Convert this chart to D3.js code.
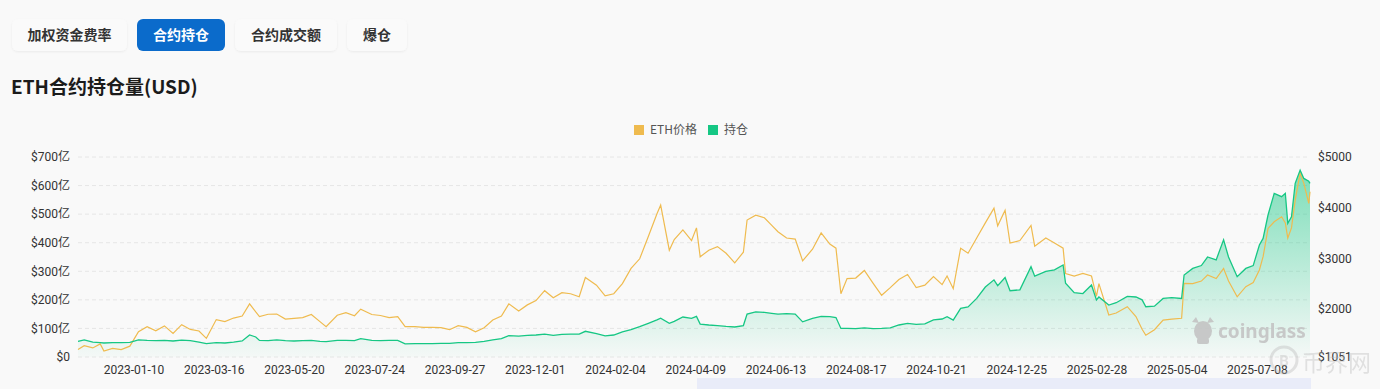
<!DOCTYPE html>
<html>
<head>
<meta charset="utf-8">
<script src="https://cdn.jsdelivr.net/npm/d3@7"></script>
<style>
  html, body { margin: 0; padding: 0; background: #f9f9f9; }
  svg { display: block; font-family: Roboto, "Noto Sans CJK SC", sans-serif; }
  .cn { font-family: "Noto Sans CJK SC", "Noto Sans", sans-serif; }
</style>
</head>
<body>
<svg id="chart" width="1380" height="389"></svg>
<script>
// tabs above the chart
const tabs = ["加权资金费率", "合约持仓", "合约成交额", "爆仓"];
const activeTab = "合约持仓";

// sample dates (irregular, extra points on spikes)
const dates = [
  "2022-11-26","2022-12-01","2022-12-08","2022-12-14","2022-12-17","2022-12-24","2022-12-31","2023-01-07","2023-01-14","2023-01-21",
  "2023-01-28","2023-02-04","2023-02-11","2023-02-18","2023-02-25","2023-03-04","2023-03-10","2023-03-18","2023-03-25","2023-04-01",
  "2023-04-08","2023-04-14","2023-04-19","2023-04-22","2023-04-29","2023-05-06","2023-05-13","2023-05-20","2023-05-27","2023-06-03",
  "2023-06-10","2023-06-15","2023-06-24","2023-07-01","2023-07-08","2023-07-13","2023-07-22","2023-07-29","2023-08-05","2023-08-12",
  "2023-08-18","2023-08-26","2023-09-02","2023-09-09","2023-09-16","2023-09-23","2023-09-30","2023-10-07","2023-10-14","2023-10-21",
  "2023-10-28","2023-11-04","2023-11-10","2023-11-18","2023-11-25","2023-12-02","2023-12-09","2023-12-16","2023-12-23","2023-12-30",
  "2024-01-06","2024-01-11","2024-01-20","2024-01-27","2024-02-03","2024-02-10","2024-02-17","2024-02-24","2024-03-02","2024-03-09",
  "2024-03-12","2024-03-19","2024-03-23","2024-03-30","2024-04-06","2024-04-10","2024-04-13","2024-04-20","2024-04-27","2024-05-04",
  "2024-05-11","2024-05-18","2024-05-21","2024-05-28","2024-06-04","2024-06-10","2024-06-15","2024-06-22","2024-06-29","2024-07-05",
  "2024-07-13","2024-07-20","2024-07-27","2024-08-01","2024-08-05","2024-08-10","2024-08-17","2024-08-24","2024-08-31","2024-09-07",
  "2024-09-14","2024-09-21","2024-09-28","2024-10-05","2024-10-12","2024-10-19","2024-10-26","2024-10-30","2024-11-04","2024-11-10",
  "2024-11-16","2024-11-23","2024-11-30","2024-12-07","2024-12-10","2024-12-16","2024-12-20","2024-12-28","2025-01-06","2025-01-09",
  "2025-01-18","2025-01-25","2025-02-01","2025-02-03","2025-02-10","2025-02-17","2025-02-24","2025-02-28","2025-03-02","2025-03-10",
  "2025-03-16","2025-03-25","2025-04-01","2025-04-06","2025-04-09","2025-04-16","2025-04-23","2025-04-30","2025-05-08","2025-05-10",
  "2025-05-17","2025-05-24","2025-05-29","2025-06-05","2025-06-11","2025-06-15","2025-06-22","2025-06-29","2025-07-05","2025-07-10",
  "2025-07-13","2025-07-17","2025-07-22","2025-07-28","2025-07-31","2025-08-02","2025-08-05","2025-08-08","2025-08-12","2025-08-15","2025-08-19","2025-08-20"
];

// ETH price, USD
const ethPrice = [
  1200,1275,1230,1310,1170,1220,1197,1265,1550,1650,
  1570,1665,1515,1690,1595,1565,1420,1790,1750,1820,
  1860,2100,1940,1850,1895,1900,1800,1815,1830,1890,
  1750,1650,1875,1925,1865,1995,1890,1870,1830,1850,
  1650,1650,1635,1635,1630,1590,1670,1635,1550,1630,
  1780,1860,2100,1960,2080,2165,2360,2220,2320,2300,
  2240,2620,2470,2260,2300,2500,2800,2990,3430,3880,
  4050,3160,3370,3560,3350,3600,3030,3160,3230,3100,
  2910,3120,3756,3850,3800,3650,3525,3400,3380,2950,
  3180,3500,3280,3200,2300,2600,2610,2760,2510,2270,
  2420,2580,2680,2420,2470,2640,2480,2650,2400,3200,
  3100,3400,3700,3990,3640,3950,3300,3350,3650,3240,
  3400,3300,3200,2700,2650,2700,2650,2250,2500,1880,
  1920,2045,1850,1600,1480,1590,1780,1800,1815,2506,
  2500,2550,2670,2600,2800,2550,2240,2440,2520,2769,
  3031,3590,3720,3820,3700,3400,3600,4150,4680,4480,4085,4315
];

// open interest, 亿 USD
const openInterest = [
  55,60,52,50,49,50,50,51,60,58,
  57,58,56,59,57,52,47,50,49,52,
  56,77,70,58,57,60,57,56,57,58,
  55,54,58,58,57,64,58,57,58,58,
  46,47,47,47,48,48,50,50,51,55,
  60,64,75,73,76,77,80,76,79,80,
  80,90,82,74,77,88,96,106,118,130,
  136,118,125,140,135,142,115,112,110,107,
  105,110,150,158,156,153,150,152,150,123,
  135,142,141,138,100,100,99,102,99,100,
  102,112,118,114,116,130,133,141,129,170,
  175,205,245,270,250,278,232,235,316,283,
  300,305,322,258,225,222,252,200,210,182,
  190,212,210,200,176,178,205,208,205,287,
  310,320,350,340,410,350,281,310,320,392,
  415,497,573,561,573,468,491,608,654,625,615,608
];

const xTickLabels = ["2023-01-10","2023-03-16","2023-05-20","2023-07-24","2023-09-27","2023-12-01",
  "2024-02-04","2024-04-09","2024-06-13","2024-08-17","2024-10-21","2024-12-25","2025-02-28","2025-05-04","2025-07-08"];
const oiTicks = [0, 100, 200, 300, 400, 500, 600, 700];
const priceTicks = [1051, 2000, 3000, 4000, 5000];

const priceColor = "#efbb4f";
const oiColor = "#16c784";

const svg = d3.select("#chart");
const parse = d3.timeParse("%Y-%m-%d");
const data = dates.map((d, i) => ({ date: parse(d), price: ethPrice[i], oi: openInterest[i] }));

const plot = { left: 78, right: 1310, top: 157, bottom: 357 };

const x = d3.scaleTime()
  .domain(d3.extent(data, d => d.date))
  .range([plot.left, plot.right]);
const yOi = d3.scaleLinear().domain([0, 700]).range([plot.bottom, plot.top]);
const yPrice = d3.scaleLinear().domain([1051, 5000]).range([plot.bottom, plot.top]);

// --- tabs
const tabX = [12, 137, 235, 347];
const tabW = [115, 88, 102, 60];
const defs = svg.append("defs");
const shadow = defs.append("filter").attr("id", "tabShadow").attr("x", "-10%").attr("y", "-20%").attr("width", "120%").attr("height", "150%");
shadow.append("feDropShadow").attr("dx", 0).attr("dy", 1).attr("stdDeviation", 1).attr("flood-color", "#000").attr("flood-opacity", 0.06);

const tabG = svg.append("g").selectAll("g")
  .data(tabs)
  .enter()
  .append("g")
  .attr("transform", (d, i) => `translate(${tabX[i]},19)`);
tabG.append("rect")
  .attr("width", (d, i) => tabW[i])
  .attr("height", 32)
  .attr("rx", 6)
  .attr("fill", d => d === activeTab ? "#0b6bcb" : "#fafafa")
  .attr("filter", d => d === activeTab ? null : "url(#tabShadow)");
tabG.append("text")
  .attr("class", "cn")
  .attr("x", (d, i) => tabW[i] / 2)
  .attr("y", 16)
  .attr("dy", "0.35em")
  .attr("text-anchor", "middle")
  .attr("font-size", 14)
  .attr("font-weight", "bold")
  .attr("fill", d => d === activeTab ? "#fff" : "#333")
  .text(d => d);

// --- title
svg.append("text")
  .attr("class", "cn")
  .attr("x", 11)
  .attr("y", 94)
  .attr("font-size", 19)
  .attr("font-weight", "bold")
  .attr("fill", "#1b1b1b")
  .text("ETH合约持仓量(USD)");

// --- legend
const legend = svg.append("g").attr("class", "cn");
[["ETH价格", priceColor, 634], ["持仓", oiColor, 708]].forEach(([name, c, lx]) => {
  legend.append("rect").attr("x", lx).attr("y", 125).attr("width", 10).attr("height", 10).attr("fill", c);
  legend.append("text").attr("x", lx + 16).attr("y", 130).attr("dy", "0.35em")
    .attr("font-size", 12).attr("fill", "#555").text(name);
});

// --- grid
svg.append("g")
  .selectAll("line")
  .data(oiTicks)
  .enter()
  .append("line")
  .attr("x1", plot.left)
  .attr("x2", plot.right)
  .attr("y1", d => yOi(d))
  .attr("y2", d => yOi(d))
  .attr("stroke", "#e6e6e6")
  .attr("stroke-dasharray", "4 3");

// --- axes
const leftAxis = svg.append("g")
  .attr("transform", `translate(${plot.left},0)`)
  .call(d3.axisLeft(yOi).tickValues(oiTicks).tickSize(0).tickPadding(8).tickFormat(d => `$${d === 0 ? 0 : d + "亿"}`));
const rightAxis = svg.append("g")
  .attr("transform", `translate(${plot.right},0)`)
  .call(d3.axisRight(yPrice).tickValues(priceTicks).tickSize(0).tickPadding(8).tickFormat(d => `$${d}`));
const bottomAxis = svg.append("g")
  .attr("transform", `translate(0,${plot.bottom})`)
  .call(d3.axisBottom(x).tickValues(xTickLabels.map(parse)).tickSize(0).tickPadding(8).tickFormat(d3.timeFormat("%Y-%m-%d")));
[leftAxis, rightAxis, bottomAxis].forEach(a => {
  a.select(".domain").remove();
  a.selectAll("text").attr("font-size", 12).attr("fill", "#333").attr("font-family", 'Roboto, "Noto Sans CJK SC", sans-serif');
});

// --- open interest area
const grad = defs.append("linearGradient").attr("id", "oiFill").attr("x1", 0).attr("y1", 0).attr("x2", 0).attr("y2", 1);
grad.append("stop").attr("offset", "0%").attr("stop-color", oiColor).attr("stop-opacity", 0.55);
grad.append("stop").attr("offset", "100%").attr("stop-color", oiColor).attr("stop-opacity", 0.02);

svg.append("path")
  .datum(data)
  .attr("fill", "url(#oiFill)")
  .attr("d", d3.area().x(d => x(d.date)).y0(plot.bottom).y1(d => yOi(d.oi)));

// --- watermarks
const wm = svg.append("g").attr("opacity", 0.9);
wm.append("ellipse").attr("cx", 1203).attr("cy", 331).attr("rx", 9).attr("ry", 10).attr("fill", "#c4c4c4");
wm.append("path").attr("d", "M1192,322 L1196,317 L1199,323 Z M1214,322 L1210,317 L1207,323 Z").attr("fill", "#c4c4c4");
wm.append("rect").attr("x", 1197).attr("y", 338).attr("width", 12).attr("height", 6).attr("rx", 2).attr("fill", "#c4c4c4");
wm.append("text").attr("x", 1218).attr("y", 338).attr("font-family", '"Noto Sans", sans-serif')
  .attr("font-size", 19).attr("font-weight", "bold").attr("fill", "#c4c4c4").text("coinglass");

// --- lines
svg.append("path")
  .datum(data)
  .attr("fill", "none")
  .attr("stroke", priceColor)
  .attr("stroke-width", 1.2)
  .attr("d", d3.line().x(d => x(d.date)).y(d => yPrice(d.price)));

svg.append("path")
  .datum(data)
  .attr("fill", "none")
  .attr("stroke", oiColor)
  .attr("stroke-width", 1.3)
  .attr("d", d3.line().x(d => x(d.date)).y(d => yOi(d.oi)));

// slider strip at the bottom edge
svg.append("rect").attr("x", 697).attr("y", 378).attr("width", 614).attr("height", 11).attr("fill", "#e9ecf9");

// site watermark, bottom right (sits under the $1051 label, as in the source)
const wm2 = svg.append("g").attr("opacity", 0.4);
wm2.append("circle").attr("cx", 1284).attr("cy", 360).attr("r", 13).attr("fill", "none").attr("stroke", "#bbb").attr("stroke-width", 3);
wm2.append("text").attr("x", 1284).attr("y", 361).attr("dy", "0.35em").attr("text-anchor", "middle")
  .attr("font-size", 15).attr("font-weight", "bold").attr("fill", "#bbb").text("B");
wm2.append("text").attr("class", "cn").attr("x", 1302).attr("y", 371).attr("font-size", 23)
  .attr("fill", "#bbb").text("币界网");
</script>
</body>
</html>
